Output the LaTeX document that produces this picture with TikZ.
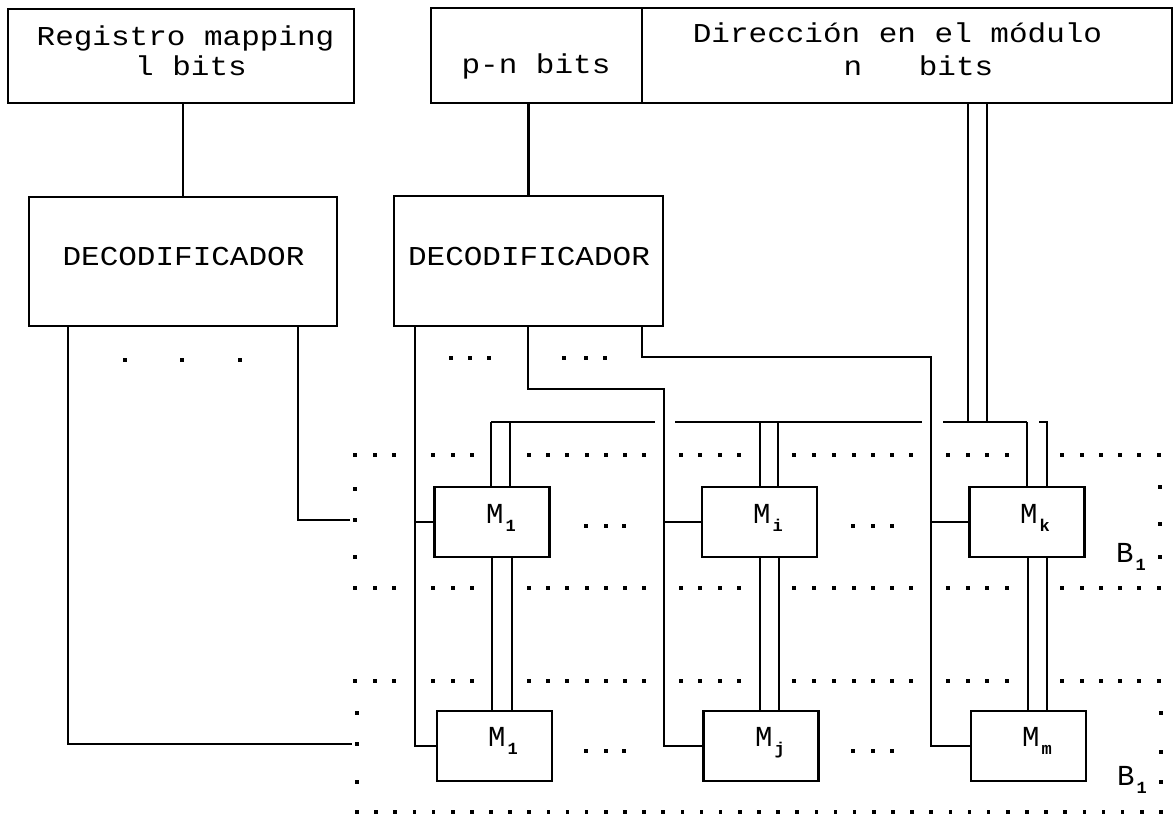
\documentclass[tikz,border=0pt]{standalone}
\usepackage{graphicx}
\usepackage{fontspec}
\newfontfamily\plotfont{Liberation Mono}
\newcommand{\ptxt}[1]{\scalebox{1}[0.88]{\plotfont\fontsize{31}{31}\selectfont #1}}
\newcommand{\mlab}[2]{{\plotfont\fontsize{29}{29}\selectfont #1}\hspace{2pt}\raisebox{-8pt}{\plotfont\bfseries\fontsize{17}{17}\selectfont #2}}
\begin{document}
\begin{tikzpicture}[x=1pt,y=-1pt,line width=2.3pt,
  box/.style={draw, rectangle, inner sep=0pt, line width=2.3pt},
  mod/.style={box, minimum width=115pt, minimum height=70pt},
  lbl/.style={inner sep=0pt, anchor=base}]
\useasboundingbox (0,0) rectangle (1176,817);

% --- top registers ---
\node[box, minimum width=346pt, minimum height=94pt] (reg) at (181,56) {};
\node[box, minimum width=211pt, minimum height=95pt] (pn) at (536.5,55.5) {};
\node[box, minimum width=530pt, minimum height=95pt] (dir) at (907,55.5) {};
\node[lbl] (treg1) at (185.5,45) {\ptxt{Registro mapping}};
\node[lbl] (treg2) at (191,75) {\ptxt{l bits}};
\node[lbl] (tpn) at (536,73) {\ptxt{p-n bits}};
\node[lbl] (tdir1) at (897.5,42) {\ptxt{Dirección en el módulo}};
\node[lbl] (tdirn) at (853,75) {\ptxt{n}};
\node[lbl] (tdirb) at (956,75) {\ptxt{bits}};

% --- decoders ---
\node[box, minimum width=308pt, minimum height=129pt] (dec1) at (183,261.5) {};
\node[box, minimum width=269pt, minimum height=130pt] (dec2) at (528.5,261) {};
\node[lbl] (tdec1) at (183.5,265) {\ptxt{DECODIFICADOR}};
\node[lbl] (tdec2) at (529,265) {\ptxt{DECODIFICADOR}};

\draw (reg.south -| dec1.north) -- (dec1.north);
\draw (pn.south -| dec2.north) -- (dec2.north);

% --- modules ---
\node[mod] (M1t) at (492,522) {};
\node[mod] (Mit) at (759.5,522) {};
\node[mod] (Mkt) at (1027,522) {};
\node[mod] (M1b) at (494.5,746) {};
\node[mod] (Mjb) at (761,746) {};
\node[mod] (Mmb) at (1028.5,746) {};
\node[lbl] (lM1t) at (501,523) {\mlab{M}{1}};
\node[lbl] (lMit) at (768,523) {\mlab{M}{i}};
\node[lbl] (lMkt) at (1035,523) {\mlab{M}{k}};
\node[lbl] (lM1b) at (503,746) {\mlab{M}{1}};
\node[lbl] (lMjb) at (770,746) {\mlab{M}{j}};
\node[lbl] (lMmb) at (1037,746) {\mlab{M}{m}};
\node[lbl] (lBt) at (1131,562) {\mlab{B}{1}};
\node[lbl] (lBb) at (1132,785) {\mlab{B}{1}};

% --- address bus (double line) ---
\coordinate (busA) at (968,422);
\coordinate (busB) at (987,422);
\coordinate (bus0) at (491,422);
\coordinate (g1a) at (655,422);
\coordinate (g1b) at (675,422);
\coordinate (g2a) at (922,422);
\coordinate (g2b) at (943,422);
\coordinate (bus1) at (1027,422);
\draw (dir.south -| busA) -- (busA);
\draw (dir.south -| busB) -- (busB);
\draw (bus0) -- (g1a);
\draw (g1b) -- (g2a);
\draw (g2b) -- (bus1);
% verticals from bus to top modules
\draw ([xshift=-1pt]M1t.north) -- ([xshift=-1pt]M1t.north |- bus0);
\draw ([xshift=18pt]M1t.north) -- ([xshift=18pt]M1t.north |- bus0);
\draw ([xshift=0.5pt]Mit.north) -- ([xshift=0.5pt]Mit.north |- bus0);
\draw ([xshift=18.5pt]Mit.north) -- ([xshift=18.5pt]Mit.north |- bus0);
\draw (Mkt.north) -- (Mkt.north |- bus0);
\draw ([xshift=20pt]Mkt.north) -- ([xshift=20pt]Mkt.north |- bus0) -- ++(-8,0);
% verticals between top and bottom modules
\draw ([xshift=0pt]M1t.south) -- ([xshift=0pt]M1t.south |- M1b.north);
\draw ([xshift=20pt]M1t.south) -- ([xshift=20pt]M1t.south |- M1b.north);
\draw ([xshift=0.5pt]Mit.south) -- ([xshift=0.5pt]Mit.south |- Mjb.north);
\draw ([xshift=19.5pt]Mit.south) -- ([xshift=19.5pt]Mit.south |- Mjb.north);
\draw ([xshift=1pt]Mkt.south) -- ([xshift=1pt]Mkt.south |- Mmb.north);
\draw ([xshift=20pt]Mkt.south) -- ([xshift=20pt]Mkt.south |- Mmb.north);

% --- decoder 1 outputs ---
\coordinate (d1a) at ([xshift=40pt]dec1.south west);
\coordinate (d1b) at ([xshift=270pt]dec1.south west);
\coordinate (e1) at (350,520);
\coordinate (e2) at (352,744);
\draw (d1a) |- (e2);
\draw (d1b) |- (e1);

% --- decoder 2 outputs ---
\coordinate (d2a) at ([xshift=22pt]dec2.south west);
\coordinate (d2b) at ([xshift=135pt]dec2.south west);
\coordinate (d2c) at ([xshift=249pt]dec2.south west);
\coordinate (k2) at (664,389);
\coordinate (k3) at (931,357);
\draw (d2a) |- (M1b.west);
\draw (M1t.west) -- (M1t.west -| d2a);
\draw (d2b) |- (k2) |- (Mjb.west);
\draw (Mit.west) -- (Mit.west -| k2);
\draw (d2c) |- (k3) |- (Mmb.west);
\draw (Mkt.west) -- (Mkt.west -| k3);

% --- dots ---
\foreach \y in {455,588,681}{
  \foreach \x in {355,375,394,433,453,472,529,548,567,587,606,625,644,681,700,720,739,794,814,834,854,873,892,911,948,968,987,1007,1062,1082,1101,1120,1139,1159}{
    \fill (\x-1.8,\y-1.8) rectangle ++(3.6,3.6);
  }
}
\foreach \i in {0,...,42}{
  \fill ({357+19.14*\i-1.8},810.2) rectangle ++(3.6,3.6);
}
\foreach \p in {(355,489),(355,520),(355,557),(1160,487),(1160,524),(1160,557),
                (357,713),(357,744),(357,782),(1161,713),(1161,752),(1161,782),
                (586,526),(606,526),(624,526),(853,526),(873,526),(892,526),
                (586,751),(606,751),(624,751),(853,751),(873,751),(892,751),
                (125,360),(182,360),(240,360),
                (451,358),(470,358),(489,358),(564,358),(586,358),(605,358)}{
  \fill \p ++(-1.8,-1.8) rectangle ++(3.6,3.6);
}
\end{tikzpicture}
\end{document}
